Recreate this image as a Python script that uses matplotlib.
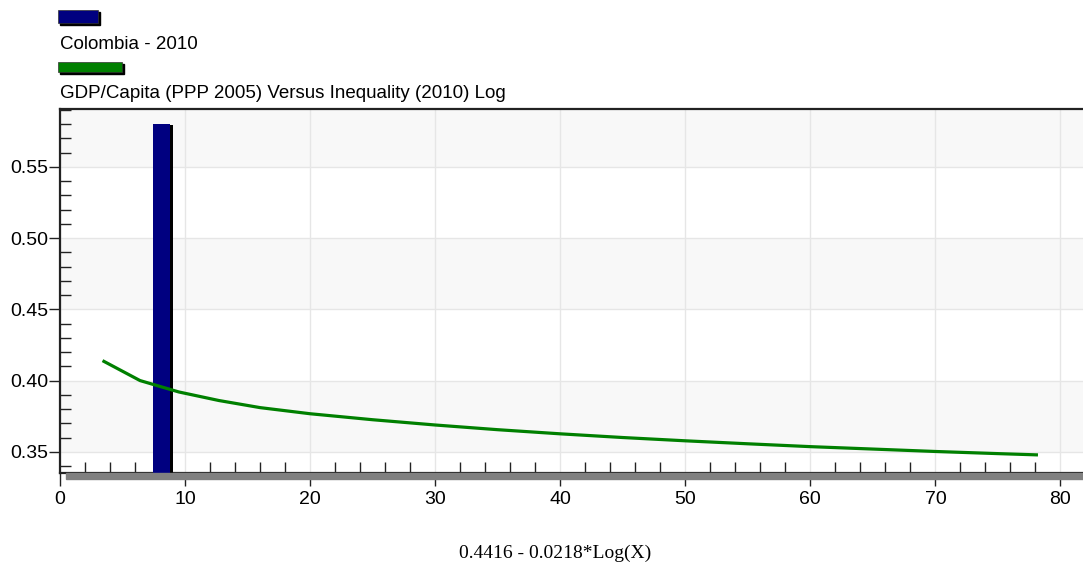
import matplotlib.pyplot as plt
import matplotlib.patches as mpatches
import matplotlib.patheffects as pe
from matplotlib.ticker import MultipleLocator

plt.rcParams['font.family'] = ['Liberation Sans', 'DejaVu Sans']

# data
bar_label = 'Colombia - 2010'
bar_x = [8.12]
bar_val = [0.58]

fit_label = 'GDP/Capita (PPP 2005) Versus Inequality (2010) Log'
fit_x = [3.4, 6.4, 9.5, 12.7, 16, 20, 25, 30, 35, 40, 45, 50, 55, 60, 65, 70, 75, 78.2]
fit_y = [0.414, 0.400, 0.392, 0.386, 0.381, 0.3767, 0.3725, 0.3688, 0.3655, 0.3626,
         0.3600, 0.3577, 0.3556, 0.3536, 0.3519, 0.3502, 0.3487, 0.3478]
formula = '0.4416 - 0.0218*Log(X)'

ymin, ymax = 0.3353, 0.5907
xmin, xmax = 0, 81.8

fig = plt.figure(figsize=(10.83, 5.64), dpi=100)
ax = fig.add_axes([60 / 1083, 1 - 472.7 / 564, 1 - 60 / 1083, (472.7 - 109) / 564])

# alternating background bands
bands = [0.35, 0.40, 0.45, 0.50, 0.55, 0.60]
for i in range(len(bands) - 1):
    if i % 2 == 0:
        ax.axhspan(bands[i], bands[i + 1], color='#f8f8f8', zorder=0, lw=0)

ax.grid(True, which='major', color='#e6e6e6', lw=1, zorder=0.5)
ax.set_axisbelow(True)

ax.bar(bar_x, [v - ymin for v in bar_val], bottom=ymin, width=1.36, color='#000080',
       edgecolor='none', zorder=3,
       path_effects=[pe.SimplePatchShadow(offset=(2.3, -0.5), shadow_rgbFace='black', alpha=1),
                     pe.Normal()])

ax.plot(fit_x, fit_y, color='#008000', lw=2.3, zorder=4, solid_capstyle='butt')

ax.set_xlim(xmin, xmax)
ax.set_ylim(ymin, ymax)
ax.xaxis.set_major_locator(MultipleLocator(10))
ax.xaxis.set_minor_locator(MultipleLocator(2))
ax.yaxis.set_major_locator(MultipleLocator(0.05))
ax.yaxis.set_minor_locator(MultipleLocator(0.01))
ax.yaxis.set_major_formatter(plt.FormatStrFormatter('%.2f'))

ax.tick_params(which='major', direction='out', length=8, width=1, color='#222222',
               labelsize=14, pad=0.7)
ax.tick_params(axis='x', which='major', length=9.4, pad=3.5)
ax.tick_params(which='minor', direction='in', length=7.7, width=1, color='#222222')

ax.spines['right'].set_visible(False)
for s in ['left', 'bottom', 'top']:
    ax.spines[s].set_linewidth(1.6)
    ax.spines[s].set_color('#222222')

# grey shadow under the x axis line
fig.patches.append(mpatches.Rectangle((66 / 1083, 1 - 478.5 / 564), 1, 5.5 / 564,
                                      transform=fig.transFigure, color='#808080', zorder=0))

# legend
def swatch(x0, y0, w, h, color):
    fig.patches.append(mpatches.Rectangle((x0 / 1083 + 2 / 1083, 1 - (y0 + h + 2) / 564),
                                          w / 1083, h / 564, transform=fig.transFigure,
                                          color='black'))
    fig.patches.append(mpatches.Rectangle((x0 / 1083, 1 - (y0 + h) / 564), w / 1083, h / 564,
                                          transform=fig.transFigure, facecolor=color,
                                          edgecolor='#333333', lw=0.5))

swatch(58, 10, 40, 13, '#000080')
fig.text(60 / 1083, 1 - 44.5 / 564, bar_label, fontsize=13.5, va='center', ha='left')
swatch(58, 62, 64, 10, '#008000')
fig.text(60 / 1083, 1 - 93.5 / 564, fit_label, fontsize=13.5, va='center', ha='left')

fig.text(555 / 1083, 1 - 553 / 564, formula, fontsize=14, va='center', ha='center',
         family=['Liberation Serif', 'DejaVu Serif'])

fig.savefig('out.png', dpi=100)
